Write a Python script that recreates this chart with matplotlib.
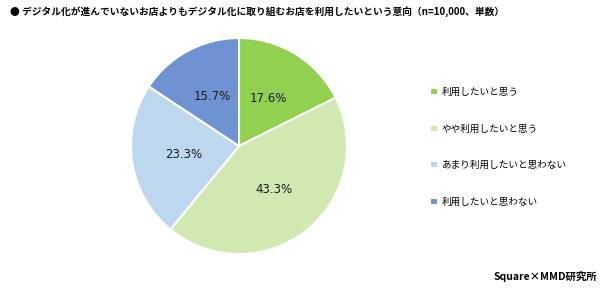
import matplotlib.pyplot as plt

plt.rcParams['font.family'] = ['Noto Sans CJK JP', 'DejaVu Sans']

# データ
categories = ['利用したいと思う', 'やや利用したいと思う', 'あまり利用したいと思わない', '利用したいと思わない']
values = [17.6, 43.3, 23.3, 15.7]
colors = ['#92D050', '#D0E9B1', '#BDD7EE', '#6F92D2']

title = '● デジタル化が進んでいないお店よりもデジタル化に取り組むお店を利用したいという意向（n=10,000、単数）'
footer = 'Square×MMD研究所'

fig = plt.figure(figsize=(6, 2.89), dpi=100)

# 円グラフ (中心 ~ (239,146)px, 半径 ~108px)
ax = fig.add_axes([(239 - 108) / 600, (289 - 146 - 108) / 289, 216 / 600, 216 / 289])
wedges, texts, autotexts = ax.pie(
    values, colors=colors, startangle=90, counterclock=False,
    autopct='%.1f%%', pctdistance=0.52,
    wedgeprops=dict(edgecolor='white', linewidth=1.5),
    textprops=dict(fontsize=8.5, color='#1a1a1a', family='DejaVu Sans'))
ax.set_aspect('auto')
ax.set_xlim(-1, 1)
ax.set_ylim(-1, 1)

# 凡例
fig.legend(wedges, categories, loc='upper left', bbox_to_anchor=(426 / 600, 1 - 84 / 289),
           frameon=False, fontsize=6.9, handlelength=0.8, handleheight=0.8,
           handletextpad=0.45, labelspacing=2.85, borderaxespad=0)

fig.text(10 / 600, 1 - 12 / 289, title, fontsize=7.0, fontweight='bold', va='center', ha='left')
fig.text(597 / 600, 1 - 277 / 289, footer, fontsize=7.5, fontweight='bold', va='center', ha='right')

fig.savefig('out.png', dpi=100)
